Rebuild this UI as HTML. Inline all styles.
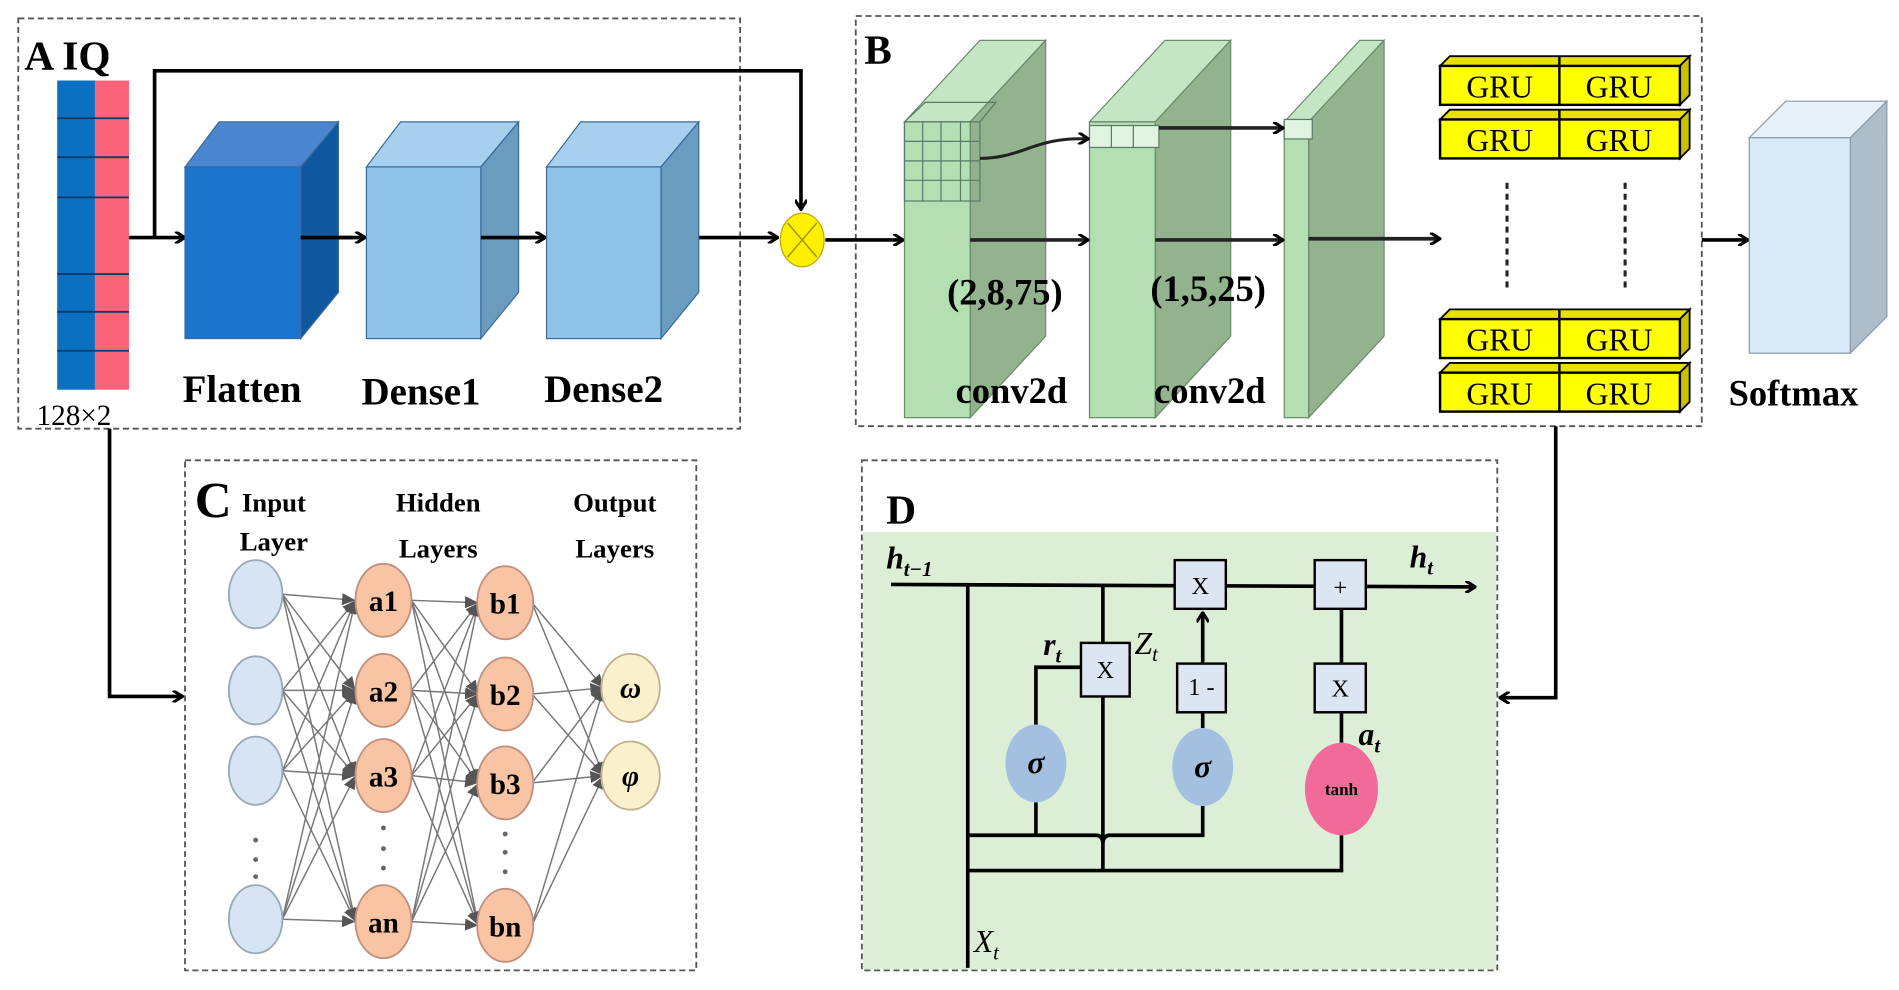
<!DOCTYPE html>
<html><head><meta charset="utf-8"><style>html,body{margin:0;padding:0;background:#fff}svg{display:block}</style></head><body>
<svg width="1899" height="990" viewBox="0 0 1560 813" xmlns="http://www.w3.org/2000/svg" font-family="Liberation Serif, serif">
<defs>
<marker id="ar" markerWidth="10" markerHeight="10" refX="9" refY="5" orient="auto" markerUnits="userSpaceOnUse"><path d="M1,0 L9,5 L1,10" fill="none" stroke="#000" stroke-width="2.5"/></marker>
<marker id="ag" markerWidth="12" markerHeight="12" refX="11" refY="6" orient="auto" markerUnits="userSpaceOnUse"><path d="M0,1 L11,6 L0,11 z" fill="#555"/></marker>
</defs>
<g fill="none" stroke="#555" stroke-width="1.5" stroke-dasharray="5,3">
<rect x="15" y="15" width="593" height="337"/>
<rect x="703" y="13" width="695" height="337"/>
<rect x="152" y="378" width="420" height="419"/>
<rect x="708" y="378" width="522" height="419"/>
</g>
<!-- A -->
<text x="20" y="57" font-size="34" font-weight="bold">A IQ</text>
<rect x="47" y="66" width="31" height="254" fill="#0b6fc2"/>
<rect x="78" y="66" width="28" height="254" fill="#fb6378"/>
<g stroke="#0b3c6a" stroke-width="1.5"><line x1="47" y1="97" x2="106" y2="97"/><line x1="47" y1="129" x2="106" y2="129"/><line x1="47" y1="162" x2="106" y2="162"/><line x1="47" y1="225" x2="106" y2="225"/><line x1="47" y1="256" x2="106" y2="256"/><line x1="47" y1="288" x2="106" y2="288"/></g>
<text x="30" y="349" font-size="24">128×2</text>
<g stroke="#000" stroke-width="3" fill="none">
<polyline points="127,195 127,58 658,58 658,172" marker-end="url(#ar)"/>
<line x1="106" y1="195" x2="152" y2="195" marker-end="url(#ar)"/>
<line x1="247" y1="195" x2="300" y2="195" marker-end="url(#ar)"/>
<line x1="395" y1="195" x2="448" y2="195" marker-end="url(#ar)"/>
<line x1="543" y1="195" x2="639" y2="195" marker-end="url(#ar)"/>
<line x1="678" y1="197" x2="742" y2="197" marker-end="url(#ar)"/>
<polyline points="90,352 90,572 150,572" marker-end="url(#ar)"/>
<polyline points="1278,350 1278,573 1232,573" marker-end="url(#ar)"/>
<line x1="1398" y1="197" x2="1436" y2="197" marker-end="url(#ar)"/>
</g>
<!-- cubes -->
<g stroke="#3a6a9a" stroke-width="1">
<polygon points="152,137 180,100 278,100 247,137" fill="#4a86d0"/>
<polygon points="247,137 278,100 278,240 247,278" fill="#0f58a0"/>
<rect x="152" y="137" width="95" height="141" fill="#1a74cc"/>
<polygon points="301,137 329,100 426,100 395,137" fill="#a6d0ee"/>
<polygon points="395,137 426,100 426,240 395,278" fill="#6a9cc0"/>
<rect x="301" y="137" width="94" height="141" fill="#8fc4e8"/>
<polygon points="449,137 477,100 574,100 543,137" fill="#a6d0ee"/>
<polygon points="543,137 574,100 574,240 543,278" fill="#6a9cc0"/>
<rect x="449" y="137" width="94" height="141" fill="#8fc4e8"/>
</g>
<g stroke="#000" stroke-width="3"><line x1="247" y1="195" x2="290" y2="195"/><line x1="395" y1="195" x2="440" y2="195"/></g>
<ellipse cx="659" cy="197" rx="18" ry="22" fill="#ffef00" stroke="#bba800"/>
<g stroke="#a09000" stroke-width="1.2"><line x1="647" y1="183" x2="671" y2="211"/><line x1="671" y1="183" x2="647" y2="211"/></g>
<g font-size="32" font-weight="bold"><text x="150" y="330">Flatten</text><text x="297" y="332">Dense1</text><text x="447" y="330">Dense2</text></g>
<!-- B -->
<text x="710" y="52" font-size="34" font-weight="bold">B</text>
<g stroke="#6a8a6a" stroke-width="1">
<polygon points="743,100 805,33 859,33 797,100" fill="#c4e6c4"/>
<polygon points="797,100 859,33 859,276 797,343" fill="#93b38f"/>
<rect x="743" y="100" width="54" height="243" fill="#b3dfb3"/>
<polygon points="895,100 957,33 1011,33 949,100" fill="#c4e6c4"/>
<polygon points="949,100 1011,33 1011,276 949,343" fill="#93b38f"/>
<rect x="895" y="100" width="54" height="243" fill="#b3dfb3"/>
<polygon points="1055,100 1117,33 1137,33 1075,100" fill="#c4e6c4"/>
<polygon points="1075,100 1137,33 1137,276 1075,343" fill="#93b38f"/>
<rect x="1055" y="100" width="20" height="243" fill="#b3dfb3"/>
</g>
<g stroke="#5a7a6a" stroke-width="1" fill="none">
<rect x="743" y="100" width="62" height="65"/>
<line x1="758" y1="100" x2="758" y2="165"/><line x1="773" y1="100" x2="773" y2="165"/><line x1="789" y1="100" x2="789" y2="165"/>
<line x1="743" y1="116" x2="805" y2="116"/><line x1="743" y1="132" x2="805" y2="132"/><line x1="743" y1="148" x2="805" y2="148"/>
<polyline points="743,100 760,84 818,84 805,100"/>
<rect x="895" y="103" width="57" height="18" fill="#e0f2e0"/><line x1="913" y1="103" x2="913" y2="121"/><line x1="931" y1="103" x2="931" y2="121"/>
<rect x="1055" y="98" width="23" height="16" fill="#e0f2e0"/>
</g>
<g stroke="#222" stroke-width="3" fill="none">
<path d="M805,130 C840,130 850,112 894,114" marker-end="url(#ar)" stroke-width="2.5"/>
<line x1="952" y1="105" x2="1054" y2="105" marker-end="url(#ar)"/>
<line x1="797" y1="197" x2="894" y2="197" marker-end="url(#ar)"/>
<line x1="949" y1="197" x2="1054" y2="197" marker-end="url(#ar)"/>
<line x1="1075" y1="196" x2="1183" y2="196" marker-end="url(#ar)"/>
</g>
<g font-size="30" font-weight="bold"><text x="778" y="250">(2,8,75)</text><text x="945" y="247">(1,5,25)</text><text x="785" y="331">conv2d</text><text x="948" y="331">conv2d</text></g>
<g id="gr">
<polygon points="1183,54 1191,46 1388,46 1380,54" fill="#e8e000" stroke="#000" stroke-width="1.5"/>
<polygon points="1380,54 1388,46 1388,78 1380,86" fill="#c8c000" stroke="#000" stroke-width="1.5"/>
<rect x="1183" y="54" width="197" height="32" fill="#ffff00" stroke="#000" stroke-width="2"/>
<line x1="1281" y1="46" x2="1281" y2="86" stroke="#000" stroke-width="2"/>
<text x="1232" y="80" font-size="26" text-anchor="middle">GRU</text>
<text x="1330" y="80" font-size="26" text-anchor="middle">GRU</text>
</g>
<use href="#gr" y="44"/><use href="#gr" y="208"/><use href="#gr" y="252"/>
<g stroke="#222" stroke-width="2.5" stroke-dasharray="5,4"><line x1="1238" y1="150" x2="1238" y2="237"/><line x1="1335" y1="150" x2="1335" y2="237"/></g>
<polygon points="1437,113 1467,83 1550,83 1520,113" fill="#e6f1fa" stroke="#8a9aa8"/>
<polygon points="1520,113 1550,83 1550,260 1520,290" fill="#aebdca" stroke="#8a9aa8"/>
<rect x="1437" y="113" width="83" height="177" fill="#d8eaf8" stroke="#8a9aa8"/>
<text x="1420" y="333" font-size="30" font-weight="bold">Softmax</text>
<!-- C -->
<text x="160" y="425" font-size="42" font-weight="bold">C</text>
<g font-size="22" font-weight="bold" text-anchor="middle"><text x="225" y="420">Input</text><text x="225" y="452">Layer</text><text x="360" y="420">Hidden</text><text x="360" y="458">Layers</text><text x="505" y="420">Output</text><text x="505" y="458">Layers</text></g>
<g stroke="#777" stroke-width="1.2" marker-end="url(#ag)">
<!-- input to a -->
<line x1="232" y1="488" x2="292" y2="493"/><line x1="232" y1="488" x2="292" y2="567"/><line x1="232" y1="488" x2="292" y2="637"/><line x1="232" y1="488" x2="292" y2="757"/>
<line x1="232" y1="567" x2="292" y2="493"/><line x1="232" y1="567" x2="292" y2="567"/><line x1="232" y1="567" x2="292" y2="637"/><line x1="232" y1="567" x2="292" y2="757"/>
<line x1="232" y1="633" x2="292" y2="493"/><line x1="232" y1="633" x2="292" y2="567"/><line x1="232" y1="633" x2="292" y2="637"/><line x1="232" y1="633" x2="292" y2="757"/>
<line x1="232" y1="755" x2="292" y2="493"/><line x1="232" y1="755" x2="292" y2="567"/><line x1="232" y1="755" x2="292" y2="637"/><line x1="232" y1="755" x2="292" y2="757"/>
<line x1="338" y1="493" x2="393" y2="495"/><line x1="338" y1="493" x2="393" y2="570"/><line x1="338" y1="493" x2="393" y2="643"/><line x1="338" y1="493" x2="393" y2="760"/>
<line x1="338" y1="567" x2="393" y2="495"/><line x1="338" y1="567" x2="393" y2="570"/><line x1="338" y1="567" x2="393" y2="643"/><line x1="338" y1="567" x2="393" y2="760"/>
<line x1="338" y1="637" x2="393" y2="495"/><line x1="338" y1="637" x2="393" y2="570"/><line x1="338" y1="637" x2="393" y2="643"/><line x1="338" y1="637" x2="393" y2="760"/>
<line x1="338" y1="757" x2="393" y2="495"/><line x1="338" y1="757" x2="393" y2="570"/><line x1="338" y1="757" x2="393" y2="643"/><line x1="338" y1="757" x2="393" y2="760"/>
<line x1="437" y1="495" x2="496" y2="565"/><line x1="437" y1="495" x2="496" y2="637"/>
<line x1="437" y1="570" x2="496" y2="565"/><line x1="437" y1="570" x2="496" y2="637"/>
<line x1="437" y1="643" x2="496" y2="565"/><line x1="437" y1="643" x2="496" y2="637"/>
<line x1="437" y1="760" x2="496" y2="565"/><line x1="437" y1="760" x2="496" y2="637"/>
</g>
<g fill="#d6e4f4" stroke="#9aa8b8" stroke-width="1.5">
<ellipse cx="210" cy="488" rx="22" ry="28"/><ellipse cx="210" cy="567" rx="22" ry="28"/><ellipse cx="210" cy="633" rx="22" ry="28"/><ellipse cx="210" cy="755" rx="22" ry="28"/>
</g>
<g fill="#f8c4a4" stroke="#c09080" stroke-width="1.5">
<ellipse cx="315" cy="493" rx="23" ry="30"/><ellipse cx="315" cy="567" rx="23" ry="30"/><ellipse cx="315" cy="637" rx="23" ry="30"/><ellipse cx="315" cy="757" rx="23" ry="30"/>
<ellipse cx="415" cy="495" rx="23" ry="30"/><ellipse cx="415" cy="570" rx="23" ry="30"/><ellipse cx="415" cy="643" rx="23" ry="30"/><ellipse cx="415" cy="760" rx="23" ry="30"/>
</g>
<g fill="#fbf0cc" stroke="#c0b090" stroke-width="1.5"><ellipse cx="518" cy="565" rx="24" ry="28"/><ellipse cx="518" cy="637" rx="24" ry="28"/></g>
<g font-size="24" font-weight="bold" text-anchor="middle"><text x="315" y="502">a1</text><text x="315" y="576">a2</text><text x="315" y="646">a3</text><text x="315" y="766">an</text>
<text x="415" y="504">b1</text><text x="415" y="579">b2</text><text x="415" y="652">b3</text><text x="415" y="769">bn</text>
<text x="518" y="573" font-style="italic">ω</text><text x="518" y="645" font-style="italic">φ</text></g>
<g fill="#666"><circle cx="210" cy="690" r="2"/><circle cx="210" cy="706" r="2"/><circle cx="210" cy="720" r="2"/><circle cx="315" cy="680" r="2"/><circle cx="315" cy="697" r="2"/><circle cx="315" cy="713" r="2"/><circle cx="415" cy="685" r="2"/><circle cx="415" cy="700" r="2"/><circle cx="415" cy="716" r="2"/></g>
<!-- D -->
<rect x="709" y="437" width="520" height="359" fill="#dcefd6"/>
<text x="728" y="430" font-size="34" font-weight="bold">D</text>
<g stroke="#000" stroke-width="3" fill="none">
<line x1="732" y1="480" x2="1212" y2="482" marker-end="url(#ar)"/>
<line x1="795" y1="480" x2="795" y2="795"/>
<line x1="906" y1="480" x2="906" y2="715"/>
<polyline points="851,597 851,548 888,548"/>
<line x1="851" y1="659" x2="851" y2="686"/>
<path d="M795,686 L900,686 Q906,686 906,693 Q906,686 912,686 L988,686 L988,662"/>
<line x1="988" y1="598" x2="988" y2="585"/>
<line x1="988" y1="545" x2="988" y2="503" marker-end="url(#ar)"/>
<line x1="1102" y1="500" x2="1102" y2="545"/>
<line x1="1102" y1="585" x2="1102" y2="610"/>
<polyline points="1102,686 1102,715 795,715"/>
</g>
<g fill="#dce6f2" stroke="#000" stroke-width="2">
<rect x="965" y="460" width="42" height="40"/><rect x="1080" y="460" width="42" height="40"/>
<rect x="888" y="528" width="40" height="44"/><rect x="967" y="545" width="40" height="40"/><rect x="1080" y="545" width="42" height="40"/>
</g>
<g font-size="20" text-anchor="middle"><text x="986" y="488">X</text><text x="1101" y="489">+</text><text x="908" y="557">X</text><text x="987" y="571">1 -</text><text x="1101" y="572">X</text></g>
<ellipse cx="851" cy="627" rx="25" ry="32" fill="#a4c0e0"/>
<ellipse cx="988" cy="630" rx="25" ry="32" fill="#a4c0e0"/>
<ellipse cx="1102" cy="648" rx="30" ry="38" fill="#f26a9a"/>
<g font-size="26" font-weight="bold" font-style="italic" text-anchor="middle"><text x="851" y="635">σ</text><text x="988" y="638">σ</text></g>
<text x="1102" y="653" font-size="14" font-weight="bold" text-anchor="middle">tanh</text>
<g font-size="26" font-style="italic" font-weight="bold">
<text x="728" y="467">h<tspan font-size="17" dy="6">t−1</tspan></text>
<text x="1158" y="466">h<tspan font-size="17" dy="6">t</tspan></text>
<text x="857" y="538">r<tspan font-size="17" dy="6">t</tspan></text>
<text x="932" y="537" font-weight="normal">Z<tspan font-size="17" dy="6">t</tspan></text>
<text x="1116" y="612">a<tspan font-size="17" dy="6">t</tspan></text>
<text x="800" y="782" font-weight="normal">X<tspan font-size="17" dy="6">t</tspan></text>
</g>
</svg>
</body></html>
